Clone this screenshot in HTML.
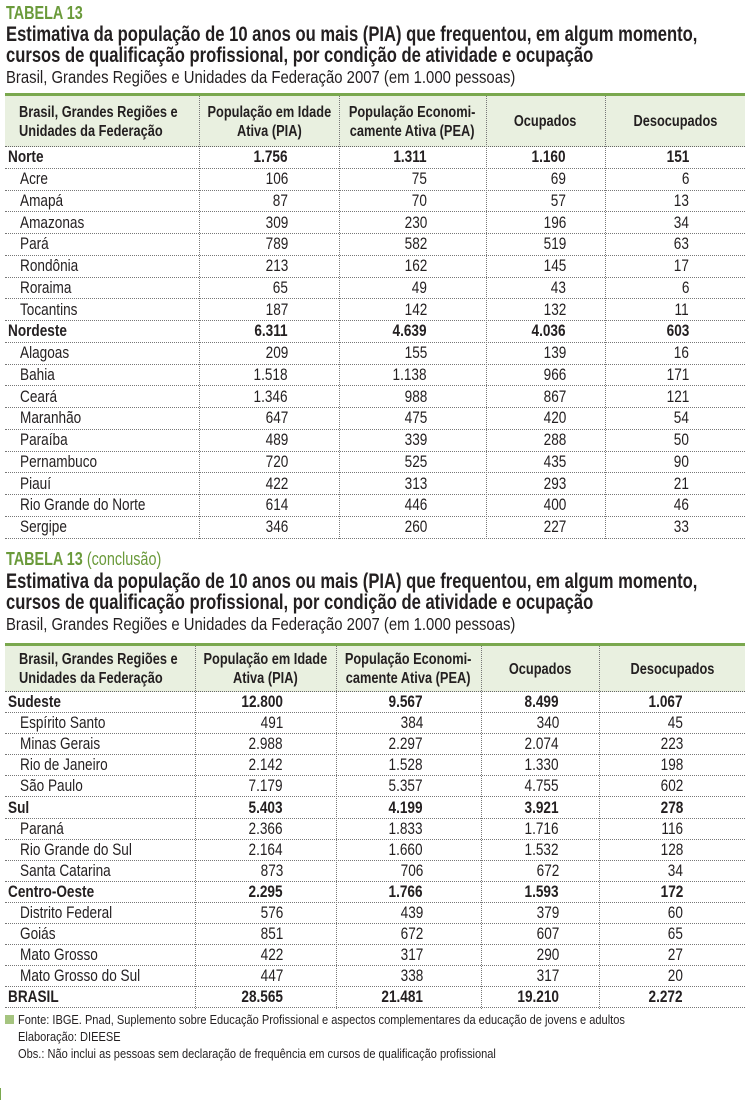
<!DOCTYPE html>
<html><head><meta charset="utf-8"><style>
*{margin:0;padding:0;box-sizing:border-box}
body{width:745px;height:1100px;background:#fff;position:relative;overflow:hidden;font-family:"Liberation Sans",sans-serif;color:#231f20}
.a{position:absolute;white-space:nowrap;transform-origin:left top}
.tag{color:#6a9a3a;font-weight:bold;font-size:18px;transform:scaleX(.8)}
.tag span{font-weight:normal}
.t{font-weight:bold;font-size:21px;line-height:21px;transform:scaleX(.79)}
.s{font-size:17.5px;transform:scaleX(.85)}
.tbl{position:absolute;left:5px;width:740px}
.hd{position:absolute;left:0;width:740px;background:#e9f0e0;border-top:3px solid #7aa84e;border-bottom:1px dotted #666}
.r{position:absolute;left:0;width:740px;border-bottom:1px dotted #777;font-size:17px}
.c{position:absolute;top:0;height:100%;display:flex;align-items:center;white-space:nowrap}
.x{display:inline-block;transform:scaleX(.8)}
.L .x{transform-origin:left center}
.R .x{transform-origin:right center}
.b{font-weight:bold}
.vl{position:absolute;width:0;border-left:1px dotted #777}
.h{font-weight:bold;font-size:16px;line-height:19px;text-align:center;justify-content:center}
.h .x{transform-origin:center center;transform:scaleX(.8)}
.hl{justify-content:flex-start;text-align:left}
.hl .x{transform-origin:left center}
.f{font-size:13px;transform:scaleX(.85)}
</style></head><body>

<div class="a tag" style="left:6px;top:3px">TABELA 13</div>
<div class="a t" style="left:6px;top:24px">Estimativa da população de 10 anos ou mais (PIA) que frequentou, em algum momento,<br>cursos de qualificação profissional, por condição de atividade e ocupação</div>
<div class="a s" style="left:6px;top:67px">Brasil, Grandes Regiões e Unidades da Federação 2007 (em 1.000 pessoas)</div>

<div id="t1"></div>

<div class="a tag" style="left:6px;top:549px">TABELA 13 <span>(conclusão)</span></div>
<div class="a t" style="left:6px;top:571px">Estimativa da população de 10 anos ou mais (PIA) que frequentou, em algum momento,<br>cursos de qualificação profissional, por condição de atividade e ocupação</div>
<div class="a s" style="left:6px;top:614px">Brasil, Grandes Regiões e Unidades da Federação 2007 (em 1.000 pessoas)</div>

<div id="t2"></div>

<div class="a" style="left:5px;top:1015px;width:9px;height:9px;background:#a5c47f"></div>
<div class="a f" style="left:18px;top:1011px;line-height:17px">Fonte: IBGE. Pnad, Suplemento sobre Educação Profissional e aspectos complementares da educação de jovens e adultos<br>Elaboração: DIEESE<br>Obs.: Não inclui as pessoas sem declaração de frequência em cursos de qualificação profissional</div>
<div class="a" style="left:0;top:1088px;width:1px;height:12px;background:#7aa84e"></div>

<script>
function build(id,top,hh,rh,seps,rights,rows){
 var h='<div class="tbl" style="top:'+top+'px">';
 h+='<div class="hd" style="top:0;height:'+hh+'px"></div>';
 var hdrs=['Brasil, Grandes Regiões e<br>Unidades da Federação','População em Idade<br>Ativa (PIA)','População Economi-<br>camente Ativa (PEA)','Ocupados','Desocupados'];
 var xs=[0].concat(seps).concat([740]);
 for(var i=0;i<5;i++){
  var st=i==0?'left:14px;width:'+(xs[1]-14)+'px':'left:'+xs[i]+'px;width:'+(xs[i+1]-xs[i])+'px';
  h+='<div class="c h'+(i==0?' hl':'')+'" style="top:3px;height:'+(hh-3)+'px;'+st+'"><span class="x">'+hdrs[i]+'</span></div>';
 }
 for(var j=0;j<rows.length;j++){
  var r=rows[j],b=r[0].charAt(0)=='*',nm=b?r[0].slice(1):r[0];
  h+='<div class="r'+(b?' b':'')+'" style="top:'+(hh+j*rh)+'px;height:'+rh+'px">';
  h+='<div class="c L" style="left:'+(b?3:15)+'px"><span class="x">'+nm+'</span></div>';
  for(var k=1;k<5;k++) h+='<div class="c R" style="right:'+(740-rights[k-1])+'px"><span class="x">'+r[k]+'</span></div>';
  h+='</div>';
 }
 var tot=hh+rows.length*rh;
 for(var s=0;s<seps.length;s++) h+='<div class="vl" style="left:'+seps[s]+'px;top:3px;height:'+(tot-3)+'px"></div>';
 h+='</div>';
 document.getElementById(id).innerHTML=h;
}
build('t1',93,54,21.75,[194,334,481,600],[283,422,561,684],[
['*Norte','1.756','1.311','1.160','151'],
['Acre','106','75','69','6'],
['Amapá','87','70','57','13'],
['Amazonas','309','230','196','34'],
['Pará','789','582','519','63'],
['Rondônia','213','162','145','17'],
['Roraima','65','49','43','6'],
['Tocantins','187','142','132','11'],
['*Nordeste','6.311','4.639','4.036','603'],
['Alagoas','209','155','139','16'],
['Bahia','1.518','1.138','966','171'],
['Ceará','1.346','988','867','121'],
['Maranhão','647','475','420','54'],
['Paraíba','489','339','288','50'],
['Pernambuco','720','525','435','90'],
['Piauí','422','313','293','21'],
['Rio Grande do Norte','614','446','400','46'],
['Sergipe','346','260','227','33']]);
build('t2',643,49,21.1,[190,331,476,594],[278,418,554,678],[
['*Sudeste','12.800','9.567','8.499','1.067'],
['Espírito Santo','491','384','340','45'],
['Minas Gerais','2.988','2.297','2.074','223'],
['Rio de Janeiro','2.142','1.528','1.330','198'],
['São Paulo','7.179','5.357','4.755','602'],
['*Sul','5.403','4.199','3.921','278'],
['Paraná','2.366','1.833','1.716','116'],
['Rio Grande do Sul','2.164','1.660','1.532','128'],
['Santa Catarina','873','706','672','34'],
['*Centro-Oeste','2.295','1.766','1.593','172'],
['Distrito Federal','576','439','379','60'],
['Goiás','851','672','607','65'],
['Mato Grosso','422','317','290','27'],
['Mato Grosso do Sul','447','338','317','20'],
['*BRASIL','28.565','21.481','19.210','2.272']]);
</script>
</body></html>
